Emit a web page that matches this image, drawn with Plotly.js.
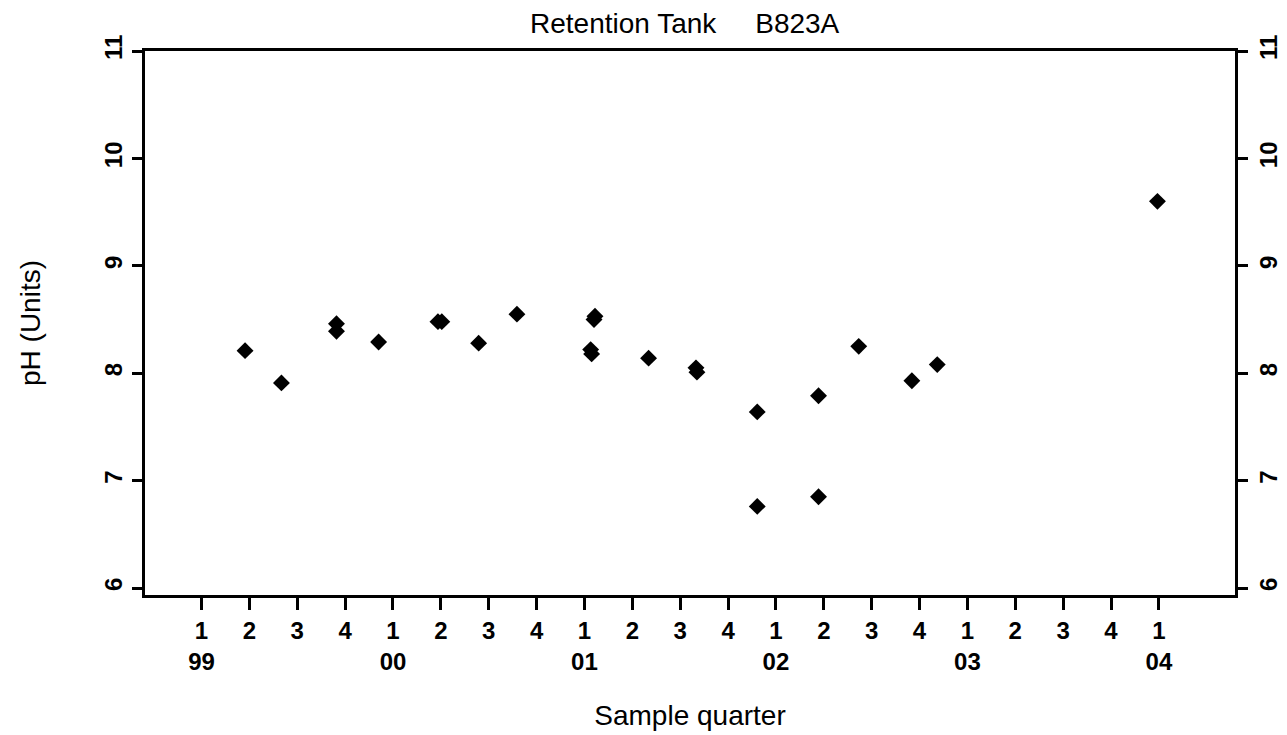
<!DOCTYPE html>
<html>
<head>
<meta charset="utf-8">
<script src="https://cdn.plot.ly/plotly-3.0.1.min.js"></script>
<style>
  html, body { margin: 0; padding: 0; background: #ffffff; }
  #chart { width: 1287px; height: 735px; }
</style>
</head>
<body>
<div id="chart"></div>
<script>
// Sample time as decimal year (1999.00 = first quarter of 1999)
const sampleTime = [
  1999.2275, 1999.4175, 1999.705, 1999.705, 1999.925,
  2000.235, 2000.255, 2000.4475, 2000.6475,
  2001.05, 2001.055, 2001.0325, 2001.0375, 2001.335, 2001.5825, 2001.5875,
  2001.9025, 2001.9025, 2002.2225, 2002.2225, 2002.4325, 2002.71, 2002.8425,
  2003.9925
];
const phValues = [
  8.21, 7.91, 8.46, 8.39, 8.29,
  8.48, 8.48, 8.28, 8.55,
  8.50, 8.53, 8.22, 8.18, 8.14, 8.05, 8.01,
  7.64, 6.76, 7.79, 6.85, 8.25, 7.93, 8.08,
  9.60
];
const years = ["99", "00", "01", "02", "03", "04"];
const quarters = ["1", "2", "3", "4"];
const yTicks = [6, 7, 8, 9, 10, 11];

// Build quarter tick positions and labels
const xTickVals = [];
const xTickText = [];
for (let y = 0; y < years.length; y++) {
  for (let q = 0; q < quarters.length; q++) {
    if (y === years.length - 1 && q > 0) break;
    xTickVals.push(1999 + y + q / 4);
    xTickText.push(q === 0 ? quarters[q] + "<br>" + years[y] : quarters[q]);
  }
}

const FONT = "Liberation Sans, Arial, Helvetica, sans-serif";

const traces = [
  {
    type: "scatter",
    mode: "markers",
    x: sampleTime,
    y: phValues,
    marker: { symbol: "diamond", size: 13, color: "#000000", line: { width: 0 } },
    showlegend: false,
    hoverinfo: "x+y"
  },
  {
    type: "scatter",
    mode: "markers",
    x: [],
    y: [],
    yaxis: "y2",
    showlegend: false,
    hoverinfo: "skip"
  }
];

const yRange = [5.935, 11];

const layout = {
  width: 1287,
  height: 735,
  paper_bgcolor: "#ffffff",
  plot_bgcolor: "#ffffff",
  font: { family: FONT, color: "#000000" },
  margin: { l: 145, r: 52, t: 51, b: 140, autoexpand: false },
  showlegend: false,
  title: {
    text: "Retention Tank\u00a0\u00a0\u00a0\u00a0\u00a0B823A",
    font: { family: FONT, size: 28, color: "#000000" },
    xref: "container",
    yref: "container",
    x: 0.532,
    xanchor: "center",
    y: 1 - 23 / 735,
    yanchor: "middle"
  },
  xaxis: {
    range: [1998.705, 2004.3975],
    tickmode: "array",
    tickvals: xTickVals,
    ticktext: xTickText,
    tickangle: 0,
    ticks: "outside",
    ticklen: 12,
    tickwidth: 2.5,
    tickcolor: "#000000",
    tickfont: { family: FONT, size: 24, color: "#000000", weight: "bold" },
    showline: true,
    linewidth: 3,
    linecolor: "#000000",
    mirror: true,
    showgrid: false,
    zeroline: false,
    automargin: false,
    title: {
      text: "Sample quarter",
      font: { family: FONT, size: 28, color: "#000000" },
      standoff: 32
    }
  },
  yaxis: {
    range: yRange,
    tickmode: "array",
    tickvals: yTicks,
    ticktext: yTicks.map(String),
    tickangle: -90,
    ticks: "outside",
    ticklen: 10,
    tickwidth: 2.5,
    tickcolor: "#000000",
    tickfont: { family: FONT, size: 24, color: "#000000", weight: "bold" },
    showline: true,
    linewidth: 3,
    linecolor: "#000000",
    showgrid: false,
    zeroline: false,
    automargin: false,
    title: {
      text: "pH (Units)",
      font: { family: FONT, size: 28, color: "#000000" },
      standoff: 52
    }
  },
  yaxis2: {
    range: yRange,
    overlaying: "y",
    side: "right",
    tickmode: "array",
    tickvals: yTicks,
    ticktext: yTicks.map(String),
    tickangle: -90,
    ticks: "outside",
    ticklen: 10,
    tickwidth: 2.5,
    tickcolor: "#000000",
    tickfont: { family: FONT, size: 24, color: "#000000", weight: "bold" },
    showline: true,
    linewidth: 3,
    linecolor: "#000000",
    showgrid: false,
    zeroline: false,
    automargin: false
  }
};

Plotly.newPlot("chart", traces, layout, { displayModeBar: false, staticPlot: false });
</script>
</body>
</html>
